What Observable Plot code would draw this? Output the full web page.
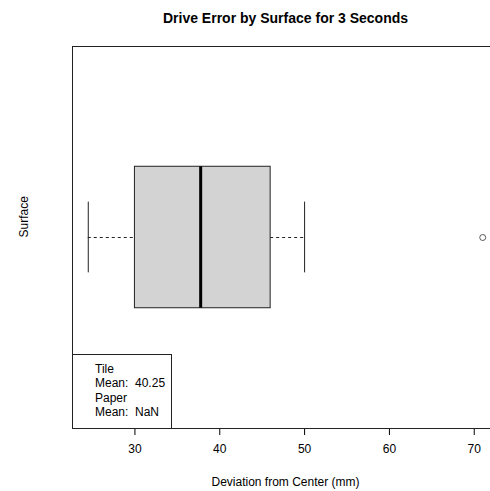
<!DOCTYPE html>
<html>
<head>
<meta charset="utf-8">
<script src="https://cdn.jsdelivr.net/npm/d3@7"></script>
<script src="https://cdn.jsdelivr.net/npm/@observablehq/plot@0.6"></script>
<style>
  html, body { margin: 0; padding: 0; background: white; overflow: hidden; }
  #wrap { position: relative; width: 490px; height: 491px; overflow: hidden; }
  #legend {
    position: absolute; left: 72px; top: 354px; width: 98px; height: 73px;
    border: 1px solid #222; background: white; box-sizing: content-box;
    font-family: "Liberation Sans", Arial, Helvetica, sans-serif; font-size: 12px;
    line-height: 14.4px; color: #000; padding: 0;
  }
  #legend .inner { position: absolute; left: 22px; top: 7px; white-space: pre; }
</style>
</head>
<body>
<div id="wrap"></div>
<script>
// Data
const surfaces = ["Tile"];
const lowerWhisker = [24.5];
const q1 = [30];
const median = [37.75];
const q3 = [46];
const upperWhisker = [50];
const outliers = [71];
const means = [40.25];
const legendLabels = ["Tile", "Paper"];
const legendMeans = ["40.25", "NaN"];
const xTicks = [30, 40, 50, 60, 70];

const boxes = surfaces.map((s, i) => ({
  surface: s, pos: i + 1,
  lo: lowerWhisker[i], q1: q1[i], med: median[i], q3: q3[i], hi: upperWhisker[i]
}));
const outs = outliers.map(v => ({pos: 1, value: v}));

// R-style 4% range extension
const allVals = [...lowerWhisker, ...upperWhisker, ...outliers];
const lo = d3.min(allVals), hi = d3.max(allVals);
const pad = (hi - lo) * 0.04;
const yPad = (surfaces.length) * 0.04;

const font = '"Liberation Sans", Arial, Helvetica, sans-serif';

const chart = Plot.plot({
  width: 500,
  height: 491,
  marginTop: 46,
  marginBottom: 63,
  marginLeft: 72,
  marginRight: 2,
  style: {fontFamily: font, fontSize: "12px", background: "white", maxWidth: "none", color: "#000"},
  x: {domain: [lo - pad, hi + pad], ticks: xTicks, tickSize: 7, tickPadding: 9, label: null, tickFormat: d3.format("d")},
  y: {domain: [0.5 - yPad, surfaces.length + 0.5 + yPad], axis: null},
  marks: [
    Plot.frame({stroke: "#222", strokeWidth: 1}),
    // whiskers (dashed)
    Plot.ruleY(boxes, {y: "pos", x1: "lo", x2: "q1", stroke: "#222", strokeDasharray: "3,3"}),
    Plot.ruleY(boxes, {y: "pos", x1: "q3", x2: "hi", stroke: "#222", strokeDasharray: "3,3"}),
    // staples
    Plot.ruleX(boxes, {x: "lo", y1: d => d.pos - 0.1, y2: d => d.pos + 0.1, stroke: "#222"}),
    Plot.ruleX(boxes, {x: "hi", y1: d => d.pos - 0.1, y2: d => d.pos + 0.1, stroke: "#222"}),
    // box
    Plot.rect(boxes, {x1: "q1", x2: "q3", y1: d => d.pos - 0.2, y2: d => d.pos + 0.2, fill: "#d3d3d3", stroke: "#222"}),
    // median
    Plot.ruleX(boxes, {x: "med", y1: d => d.pos - 0.2, y2: d => d.pos + 0.2, stroke: "#000", strokeWidth: 3}),
    // outliers
    Plot.dot(outs, {x: "value", y: "pos", r: 3, stroke: "#333", fill: "none", strokeWidth: 0.8}),
    // title & axis labels
    Plot.text(["Drive Error by Surface for 3 Seconds"], {frameAnchor: "top", dy: -28, lineAnchor: "middle", fontWeight: "bold", fontSize: 14, fill: "#000"}),
    Plot.text(["Deviation from Center (mm)"], {frameAnchor: "bottom", dy: 54, lineAnchor: "middle", fontSize: 12, fill: "#000"}),
    Plot.text(["Surface"], {frameAnchor: "left", dx: -48, rotate: -90, lineAnchor: "middle", fontSize: 12, fill: "#000"})
  ]
});

const wrap = document.getElementById("wrap");
wrap.appendChild(chart);

const legend = document.createElement("div");
legend.id = "legend";
const inner = document.createElement("div");
inner.className = "inner";
inner.textContent = legendLabels.map((l, i) => l + "\nMean:  " + legendMeans[i]).join("\n");
legend.appendChild(inner);
wrap.appendChild(legend);
</script>
</body>
</html>
